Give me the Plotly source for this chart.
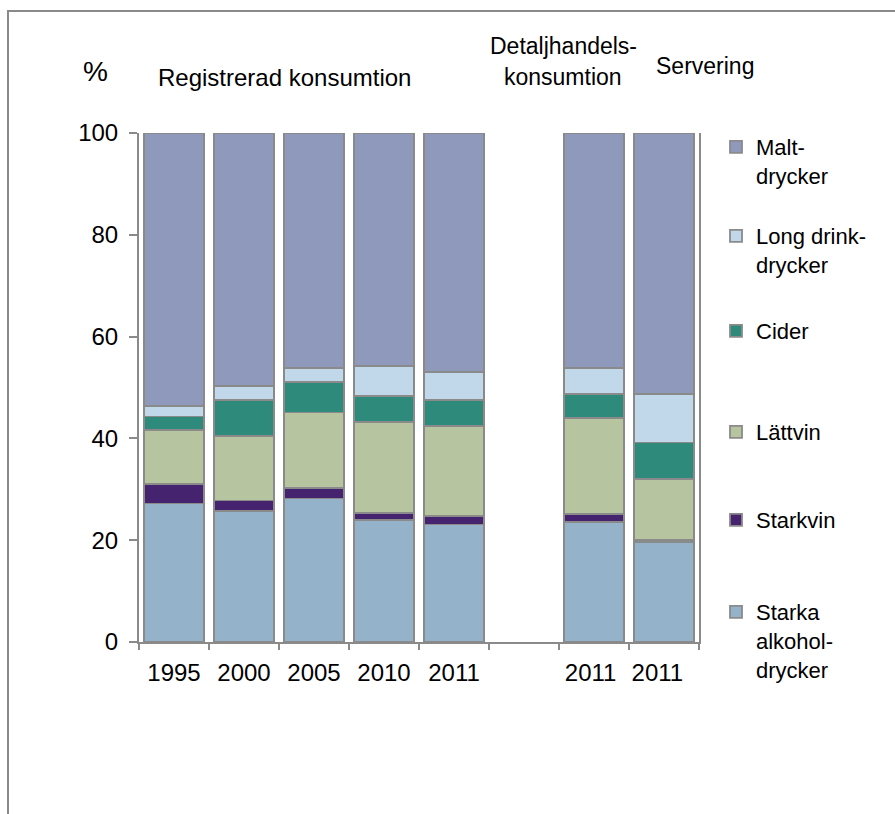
import plotly.graph_objects as go

categories = ["1995", "2000", "2005", "2010", "2011", " ", "2011 ", "2011  "]

starka = [27.2, 25.8, 28.2, 23.9, 23.1, None, 23.5, 19.6]
starkvin = [3.8, 2.0, 2.0, 1.5, 1.6, None, 1.6, 0.4]
lattvin = [10.7, 12.7, 14.9, 17.8, 17.8, None, 18.9, 12.1]
cider = [2.6, 7.1, 6.0, 5.1, 5.1, None, 4.7, 7.1]
longdrink = [2.0, 2.7, 2.8, 6.0, 5.4, None, 5.2, 9.5]
malt = [53.7, 49.7, 46.1, 45.7, 47.0, None, 46.1, 51.3]

series_names = ["Starka<br>alkohol-<br>drycker", "Starkvin", "Lättvin", "Cider",
                "Long drink-<br>drycker", "Malt-<br>drycker"]
series_values = [starka, starkvin, lattvin, cider, longdrink, malt]
series_colors = ["#94b3cb", "#46236e", "#b7c4a0", "#2e8a7a", "#c0d8ea", "#8f99bc"]

y_ticks = [0, 20, 40, 60, 80, 100]

FONT = "Liberation Sans, Arial, sans-serif"
GRAY = "#8a8a8a"

# layout geometry (pixels)
W, H = 895, 814
L, R, T, B = 139, 196, 133, 172
pw, ph = W - L - R, H - T - B


def px_x(x):
    return (x - L) / pw


def px_y(y):
    return (H - B - y) / ph


# legend item tops (px) for each series, same order as series
legend_tops = [591, 499, 411, 310, 215, 126]
legend_ids = ["legend6", "legend5", "legend4", "legend3", "legend2", "legend"]

fig = go.Figure()
for name, vals, col, lid in zip(series_names, series_values, series_colors, legend_ids):
    fig.add_trace(go.Bar(
        x=categories, y=vals, name=name, legend=lid,
        marker=dict(color=col, line=dict(color=GRAY, width=1.8)),
        hoverinfo="skip",
    ))

legend_layouts = {}
for lid, top in zip(legend_ids, legend_tops):
    legend_layouts[lid] = dict(
        x=px_x(716), y=px_y(top), xanchor="left", yanchor="top",
        xref="paper", yref="paper", valign="top",
        font=dict(family=FONT, size=22, color="black"),
        bgcolor="rgba(0,0,0,0)", borderwidth=0,
    )

fig.update_layout(
    width=W, height=H,
    margin=dict(l=L, r=R, t=T, b=B, pad=0),
    barmode="stack", bargap=0.14,
    plot_bgcolor="white", paper_bgcolor="white",
    font=dict(family=FONT, size=24, color="black"),
    showlegend=True,
    **legend_layouts,
)

fig.update_xaxes(
    type="category", categoryorder="array", categoryarray=categories,
    showline=True, linecolor=GRAY, linewidth=2,
    ticks="outside", tickson="boundaries", ticklen=6, tickcolor=GRAY, tickwidth=2,
    showgrid=False, zeroline=False, tickangle=0,
    tickfont=dict(family=FONT, size=24, color="black"),
    ticklabelstandoff=8,
)
fig.update_yaxes(
    range=[0, 100], tickvals=y_ticks, ticktext=[str(v) for v in y_ticks],
    showline=True, linecolor=GRAY, linewidth=2, mirror=True,
    ticks="outside", ticklen=8, tickcolor=GRAY, tickwidth=2,
    showgrid=False, zeroline=False,
    tickfont=dict(family=FONT, size=24, color="black"),
    ticklabelstandoff=6,
)

# outer chart border
fig.add_shape(type="rect", xref="paper", yref="paper",
              x0=px_x(8), x1=px_x(905), y0=px_y(830), y1=px_y(11),
              line=dict(color=GRAY, width=2), fillcolor="rgba(0,0,0,0)", layer="below")

headers = [
    ("%", 95, 72, 28),
    ("Registrerad konsumtion", 284, 77, 24),
    ("Detaljhandels-", 563, 46, 23),
    ("konsumtion", 563, 77, 23),
    ("Servering", 705, 66, 23),
]
for text, x, y, size in headers:
    fig.add_annotation(text=text, x=px_x(x), y=px_y(y), xref="paper", yref="paper",
                       xanchor="center", yanchor="middle", showarrow=False,
                       font=dict(family=FONT, size=size, color="black"))

fig.write_html("out.html", config={"displayModeBar": False},
               post_script="document.body.style.margin='0';")
